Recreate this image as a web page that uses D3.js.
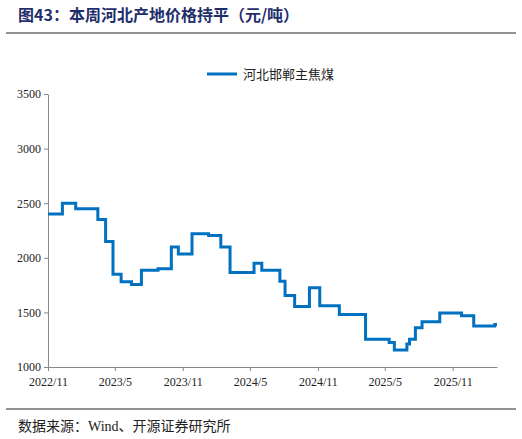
<!DOCTYPE html>
<html><head><meta charset="utf-8">
<script src="https://cdn.jsdelivr.net/npm/d3@7"></script>
<style>body{margin:0;background:#fff}</style>
</head><body><div id="chart"></div>
<script>
// step points: date the price changes to, value
const dates = ["2022-11-01","2022-12-10","2023-01-15","2023-03-16","2023-04-06","2023-04-26","2023-05-18","2023-06-15","2023-07-12","2023-08-26","2023-10-01","2023-10-20","2023-11-26","2024-01-10","2024-02-12","2024-03-08","2024-05-12","2024-06-02","2024-07-21","2024-08-04","2024-08-30","2024-10-09","2024-11-06","2024-12-29","2025-03-10","2025-05-13","2025-05-27","2025-06-30","2025-07-07","2025-07-23","2025-08-10","2025-09-27","2025-11-25","2025-12-28","2026-02-23","2026-03-01"];
const prices = [2400,2500,2450,2350,2150,1850,1780,1755,1885,1900,2100,2035,2220,2205,2100,1865,1950,1885,1785,1655,1555,1725,1560,1480,1255,1225,1155,1210,1255,1360,1415,1495,1470,1375,1390,1390];
const yTicks = [1000,1500,2000,2500,3000,3500];
const xTicks = ["2022-11-01","2023-05-01","2023-11-01","2024-05-01","2024-11-01","2025-05-01","2025-11-01"];
const seriesName = "河北邯郸主焦煤";

const W = 522, H = 439;
const parse = d3.timeParse("%Y-%m-%d");
const data = dates.map((d, i) => ({date: parse(d), value: prices[i]}));

const svg = d3.select("#chart").append("svg").attr("width", W).attr("height", H);

svg.append("text").attr("x", 18).attr("y", 21)
  .attr("font-family", "Noto Sans CJK SC").attr("font-weight", "bold").attr("font-size", 16)
  .attr("fill", "#1f2f6b").text("图43：本周河北产地价格持平（元/吨）");
svg.append("line").attr("x1", 6).attr("x2", 516).attr("y1", 33).attr("y2", 33).attr("stroke", "#222").attr("stroke-width", 1);

const x = d3.scaleTime().domain([parse("2022-11-01"), parse("2026-03-01")]).range([48, 497]);
const y = d3.scaleLinear().domain([1000, 3500]).range([367, 94]);

const xAxis = svg.append("g").attr("transform", "translate(0,367)")
  .call(d3.axisBottom(x).tickValues(xTicks.map(parse)).tickFormat(d3.timeFormat("%Y/%-m")).tickSize(4).tickSizeOuter(0));
const yAxis = svg.append("g").attr("transform", "translate(48,0)")
  .call(d3.axisLeft(y).tickValues(yTicks).tickFormat(d3.format("d")).tickSize(4).tickSizeOuter(0));
[xAxis, yAxis].forEach(a => {
  a.selectAll("path,line").attr("stroke", "#888");
  a.selectAll("text").attr("font-family", "Liberation Serif").attr("font-size", 12).attr("fill", "#222");
});
xAxis.selectAll("text").attr("dy", "1em");

const line = d3.line().curve(d3.curveStepAfter).x(d => x(d.date)).y(d => y(d.value));
svg.append("path").datum(data).attr("d", line)
  .attr("fill", "none").attr("stroke", "#0070c0").attr("stroke-width", 3);

// legend
svg.append("line").attr("x1", 207).attr("x2", 237).attr("y1", 74).attr("y2", 74)
  .attr("stroke", "#0070c0").attr("stroke-width", 3);
svg.append("text").attr("x", 243).attr("y", 79).attr("font-family", "Noto Sans CJK SC")
  .attr("font-size", 13).attr("fill", "#222").text(seriesName);

svg.append("line").attr("x1", 6).attr("x2", 516).attr("y1", 409).attr("y2", 409).attr("stroke", "#222").attr("stroke-width", 1);
svg.append("text").attr("x", 18).attr("y", 431).attr("font-family", "Liberation Serif, Noto Sans CJK SC")
  .attr("font-size", 14).attr("fill", "#222").text("数据来源：Wind、开源证券研究所");
</script></body></html>
